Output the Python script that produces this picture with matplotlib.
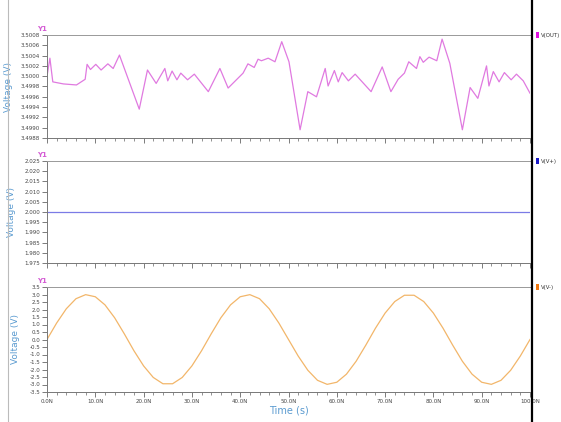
import matplotlib.pyplot as plt
import numpy as np
from matplotlib.lines import Line2D
from matplotlib.patches import Rectangle
from matplotlib.ticker import MultipleLocator, FuncFormatter

# --- DATA ---
t_out = [0.0, 0.6, 1.2, 3.4, 6.1, 7.9, 8.3, 9.0, 10.1, 11.2, 12.6, 13.7, 15.0,
         19.1, 20.8, 22.6, 24.4, 25.0, 25.9, 26.9, 27.7, 29.1, 30.5, 33.4, 35.8,
         37.5, 40.6, 41.6, 42.9, 43.7, 44.4, 45.8, 47.2, 48.6, 50.1, 52.4, 54.0,
         55.8, 57.6, 58.2, 59.5, 60.3, 61.1, 62.4, 63.8, 67.1, 69.4, 71.2, 72.7,
         74.0, 74.9, 76.5, 77.2, 77.9, 79.1, 80.7, 81.8, 83.4, 86.0, 87.6, 89.2,
         91.0, 91.5, 92.4, 93.6, 94.7, 96.1, 97.2, 98.6, 100.0]
v_out = [3.50000, 3.50035, 3.49989, 3.49985, 3.49983, 3.49994, 3.50023, 3.50013,
         3.50023, 3.50012, 3.50024, 3.50015, 3.50041, 3.49936, 3.50012, 3.49986,
         3.50015, 3.49991, 3.50010, 3.49993, 3.50006, 3.49993, 3.50004, 3.49970,
         3.50015, 3.49977, 3.50006, 3.50024, 3.50017, 3.50033, 3.50030, 3.50035,
         3.50028, 3.50067, 3.50028, 3.49896, 3.49970, 3.49960, 3.50015, 3.49981,
         3.50011, 3.49989, 3.50007, 3.49991, 3.50004, 3.49970, 3.50018, 3.49970,
         3.49994, 3.50006, 3.50028, 3.50015, 3.50038, 3.50027, 3.50037, 3.50030,
         3.50072, 3.50025, 3.49896, 3.49978, 3.49957, 3.50020, 3.49981, 3.50009,
         3.49989, 3.50007, 3.49993, 3.50004, 3.49991, 3.49967]

t_plus = [0.0, 100.0]
v_plus = [2.0, 2.0]

t_minus = list(range(0, 101, 2))
v_minus = [0.00, 1.10, 2.05, 2.72, 2.99, 2.85, 2.31, 1.45, 0.38, -0.75, -1.76,
           -2.53, -2.95, -2.95, -2.53, -1.76, -0.75, 0.38, 1.45, 2.31, 2.85,
           2.99, 2.72, 2.05, 1.10, 0.00, -1.10, -2.05, -2.72, -2.99, -2.85,
           -2.31, -1.45, -0.38, 0.75, 1.76, 2.53, 2.95, 2.95, 2.53, 1.76, 0.75,
           -0.38, -1.45, -2.31, -2.85, -2.99, -2.72, -2.05, -1.10, 0.00]

x_ticks = [0, 10, 20, 30, 40, 50, 60, 70, 80, 90, 100]
x_ticklabels = ["0.0N", "10.0N", "20.0N", "30.0N", "40.0N", "50.0N",
                "60.0N", "70.0N", "80.0N", "90.0N", "100.0N"]

names = ["V(OUT)", "V(V+)", "V(V-)"]

# --- STYLE ---
W, H = 561, 422
LINE_COLORS = ['#e07ae0', '#7b7be6', '#f2b66a']
KEY_COLORS = ['#e010e0', '#1a1ac8', '#f07810']
LABEL_BLUE = '#5b9bd0'
Y1_COLOR = '#d45cd4'
TICK_COLOR = '#444444'

fig = plt.figure(figsize=(W / 100, H / 100), dpi=100, facecolor='white')

# panel boxes in pixels: (top, bottom), and x of the y-label centre
panels = [(35, 138), (161, 263), (287, 392)]
ylabel_x = [13, 16, 20]
left_px, right_px = 47, 530

series = [(t_out, v_out), (t_plus, v_plus), (t_minus, v_minus)]
ylims = [(3.4988, 3.5008), (1.975, 2.025), (-3.5, 3.5)]
ysteps = [0.0002, 0.005, 0.5]
yfmts = ["{:.4f}", "{:.3f}", "{:.1f}"]

for i, (top, bot) in enumerate(panels):
    ax = fig.add_axes([left_px / W, 1 - bot / H, (right_px - left_px) / W, (bot - top) / H])
    t, v = series[i]
    ax.plot(t, v, color=LINE_COLORS[i], lw=0.9)
    ax.set_xlim(0, 100)
    ax.set_ylim(*ylims[i])
    ax.yaxis.set_major_locator(MultipleLocator(ysteps[i]))
    fmt = yfmts[i]
    ax.yaxis.set_major_formatter(FuncFormatter(lambda val, pos, f=fmt: f.format(val)))
    ax.set_xticks(x_ticks)
    ax.xaxis.set_minor_locator(MultipleLocator(2))
    if i == 2:
        ax.set_xticklabels(x_ticklabels)
        ax.set_xlabel("Time (s)", fontsize=7, color=LABEL_BLUE, labelpad=1)
    else:
        ax.set_xticklabels([])
    ax.tick_params(axis='both', which='major', direction='out', length=3.5, width=0.6,
                   colors='#666666', labelsize=4, labelcolor=TICK_COLOR, pad=1.5)
    ax.tick_params(axis='x', which='minor', direction='out', length=2, width=0.5,
                   colors='#666666')
    ax.spines['right'].set_visible(False)
    ax.spines['left'].set_color('#777777')
    ax.spines['bottom'].set_color('#777777')
    ax.spines['top'].set_color('#999999')
    for sp in ax.spines.values():
        sp.set_linewidth(0.7)

    ax.set_ylabel("Voltage (V)", fontsize=6.5, color=LABEL_BLUE)
    ax.yaxis.set_label_coords((ylabel_x[i] - left_px) / (right_px - left_px), 0.5)

    # "Y1" marker above the axis
    fig.text(42 / W, 1 - (top - 6) / H, "Y1", fontsize=5, color=Y1_COLOR,
             ha='center', va='center', fontweight='bold')

    # top line continues to the black divider
    fig.add_artist(Line2D([right_px / W, 532 / W], [1 - top / H, 1 - top / H],
                          color='#999999', lw=0.7))

    # legend key on the right
    fig.add_artist(Rectangle((535.5 / W, 1 - (top + 3) / H), 3 / W, 6 / H,
                             color=KEY_COLORS[i], lw=0))
    fig.text(540.5 / W, 1 - top / H, names[i], fontsize=3.9, color='#333333',
             ha='left', va='center')

# frame lines
fig.add_artist(Line2D([8 / W, 8 / W], [0, 1], color='#bbbbbb', lw=0.8))
fig.add_artist(Line2D([532 / W, 532 / W], [0, 1], color='black', lw=1.6))

plt.savefig('out.png', dpi=100)
